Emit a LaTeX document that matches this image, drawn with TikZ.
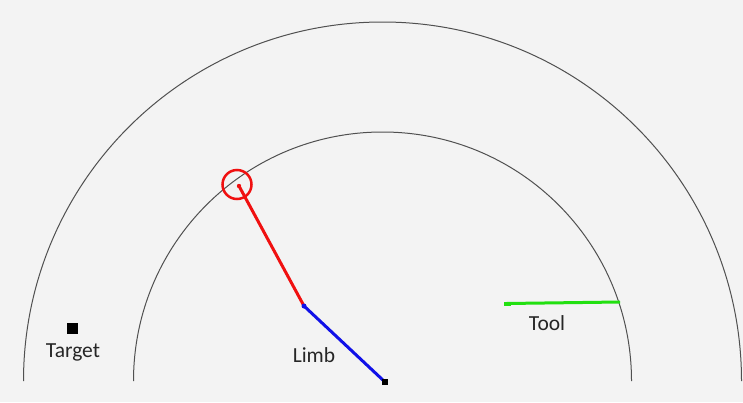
\documentclass[tikz,border=0pt]{standalone}
\usepackage{fontspec}
\setmainfont{Carlito}
\definecolor{bg}{HTML}{F3F3F3}
\definecolor{arcgray}{HTML}{505050}
\definecolor{limbred}{HTML}{F01010}
\definecolor{limbblue}{HTML}{1010E8}
\definecolor{toolgreen}{HTML}{22E010}
\begin{document}
\begin{tikzpicture}[x=1pt,y=-1pt,
  arcline/.style={draw=arcgray,line width=1pt},
  lbl/.style={font=\fontsize{21.5}{24}\selectfont,text=black!85,inner sep=0pt},
  seg/.style={line width=3pt}]
\useasboundingbox[fill=bg] (0,0) rectangle (743,402);
% arcs
\coordinate (c) at (382.5,381);
\draw[arcline] (23.5,381) arc[start angle=180,end angle=360,radius=359];
\draw[arcline] (133.5,381) arc[start angle=180,end angle=360,radius=249];
% limb
\coordinate (base) at (385,382);
\coordinate (elbow) at (304,306);
\coordinate (hand) at (239,186);
\draw[seg,limbblue] (base) -- (elbow);
\draw[seg,limbred] (elbow) -- (hand);
\fill[limbred] (hand) circle (2.2);
\fill[limbblue] (elbow) circle (2.5);
\node[draw=limbred,line width=2.5pt,circle,minimum size=29pt,inner sep=0pt] (grip) at (237,184.5) {};
\node[fill=black,minimum size=6pt,inner sep=0pt] (basebox) at (base) {};
% tool
\coordinate (t1) at (506,303.5);
\coordinate (t2) at (620,302);
\draw[seg,toolgreen] (t1) -- (t2);
\fill[toolgreen] (504,301.5) rectangle (511,306);
% target
\node[fill=black,minimum size=11pt,inner sep=0pt] (target) at (72.5,328.5) {};
\node[lbl] (targetlbl) at (73,352) {Target};
\node[lbl] (limblbl) at (314,355) {Limb};
\node[lbl] (toollbl) at (547,323) {Tool};
\end{tikzpicture}
\end{document}
